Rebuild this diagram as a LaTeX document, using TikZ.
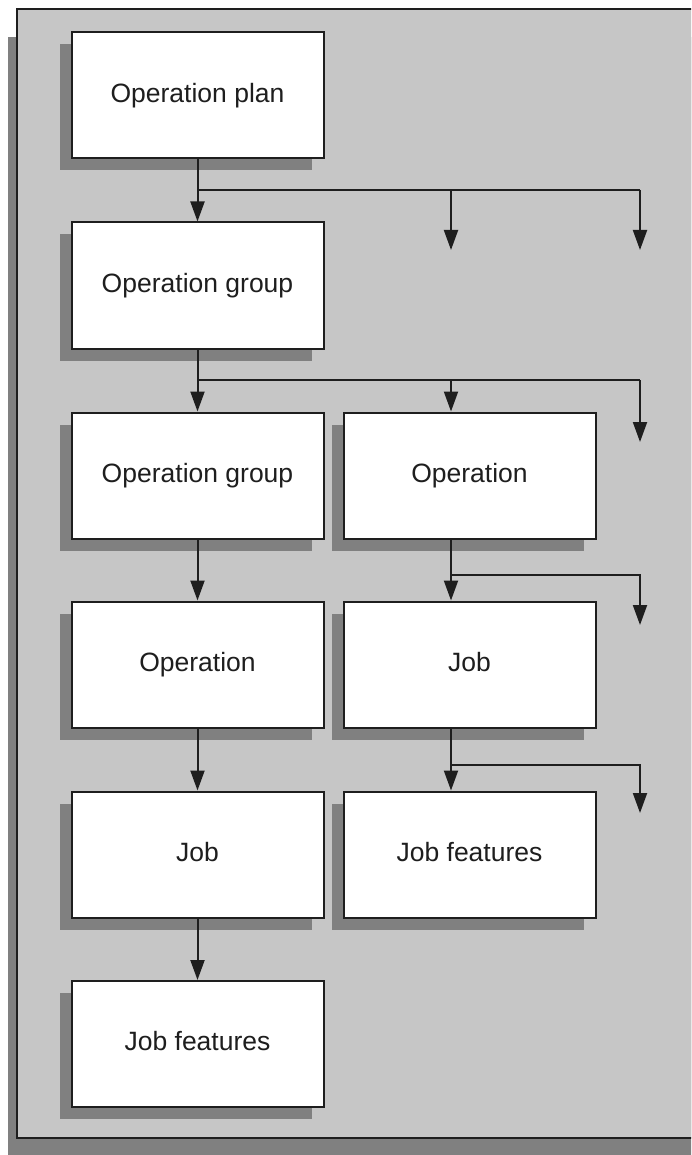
\documentclass[tikz,border=0pt]{standalone}
\usepackage{fontspec}
\setmainfont{Liberation Sans}
\usetikzlibrary{arrows.meta,shadows}
\definecolor{panelgray}{HTML}{C6C6C6}
\definecolor{shadegray}{HTML}{808080}
\definecolor{inkgray}{HTML}{1E1E1E}
\tikzset{
  box/.style={draw=inkgray, line width=2pt, fill=white, inner sep=0pt,
    minimum width=252pt, minimum height=126pt,
    text height=19pt, text depth=5.5pt,
    font=\fontsize{26.5}{30}\selectfont, text=inkgray,
    drop shadow={shadow xshift=-12pt, shadow yshift=-12pt, fill=shadegray, opacity=1}},
  link/.style={draw=inkgray, line width=2pt},
  flow/.style={link, -{Triangle[length=20pt,width=14pt]}}
}
\begin{document}
\begin{tikzpicture}[x=1pt,y=-1pt]
\useasboundingbox (0,0) rectangle (691,1155);
\clip (0,0) rectangle (691,1155);
% panel with its shadow
\fill[shadegray] (8,37) rectangle (720,1180);
\filldraw[fill=panelgray, draw=inkgray, line width=2pt] (17,9) rectangle (720,1138);
% column references
\coordinate (cr) at (451,0);
\coordinate (ce) at (640,0);
% boxes
\node[box] (b1)  at (197.5,95.5)  {Operation plan};
\node[box] (b2)  at (197.5,285.5) {Operation group};
\node[box] (b3l) at (197.5,475.5) {Operation group};
\node[box] (b3r) at (469.5,475.5) {Operation};
\node[box] (b4l) at (197.5,664.5) {Operation};
\node[box] (b4r) at (469.5,664.5) {Job};
\node[box] (b5l) at (197.5,854.5) {Job};
\node[box] (b5r) at (469.5,854.5) {Job features};
\node[box] (b6l) at (197.5,1044)  {Job features};
% branch points and open arrow ends
\coordinate (j1) at (197.5,190);
\coordinate (e1a) at (451,250);
\coordinate (e1b) at (640,250);
\coordinate (j2) at (197.5,380);
\coordinate (e2) at (640,442);
\coordinate (j3) at (451,575);
\coordinate (e3) at (640,625);
\coordinate (j4) at (451,765);
\coordinate (e4) at (640,813);
% connectors
\draw[flow] (b1) -- (b2);
\draw[link] (j1) -- (j1 -| ce);
\draw[flow] (j1 -| cr) -- (e1a);
\draw[flow] (j1 -| ce) -- (e1b);
\draw[flow] (b2) -- (b3l);
\draw[link] (j2) -- (j2 -| ce);
\draw[flow] (j2 -| cr) -- (b3r.north -| cr);
\draw[flow] (j2 -| ce) -- (e2);
\draw[flow] (b3l) -- (b4l);
\draw[flow] (b3r.south -| cr) -- (b4r.north -| cr);
\draw[flow] (j3) -| (e3);
\draw[flow] (b4l) -- (b5l);
\draw[flow] (b4r.south -| cr) -- (b5r.north -| cr);
\draw[flow] (j4) -| (e4);
\draw[flow] (b5l) -- (b6l);
\end{tikzpicture}
\end{document}
